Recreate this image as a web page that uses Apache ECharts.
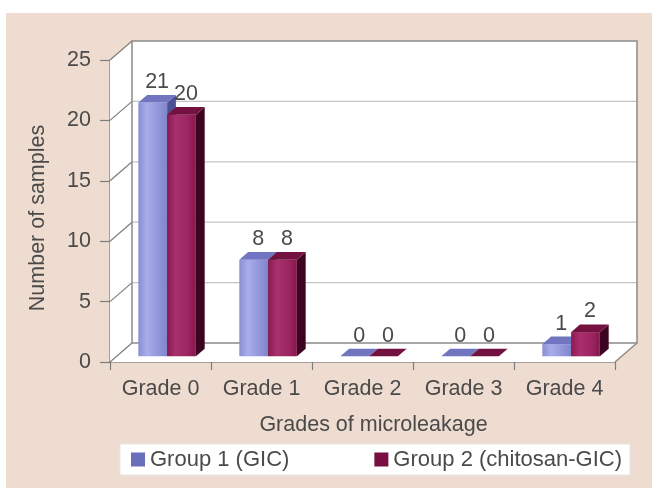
<!DOCTYPE html>
<html>
<head>
<meta charset="utf-8">
<script src="https://cdn.jsdelivr.net/npm/echarts@6/dist/echarts.min.js"></script>
<style>
html,body{margin:0;padding:0;background:#ffffff;}
#wrap{position:relative;width:652px;height:488px;background:#ffffff;overflow:hidden;}
#bg{position:absolute;left:6px;top:13px;width:646px;height:475px;background:#efdcd0;}
#chart{position:absolute;left:0;top:0;width:652px;height:488px;}
</style>
</head>
<body>
<div id="wrap"><div id="bg"></div><div id="chart"></div></div>
<script>
// ---- data ----
const categories = ['Grade 0', 'Grade 1', 'Grade 2', 'Grade 3', 'Grade 4'];
const group1 = [21, 8, 0, 0, 1];
const group2 = [20, 8, 0, 0, 2];
const seriesNames = ['Group 1 (GIC)', 'Group 2 (chitosan-GIC)'];
const yTicks = [0, 5, 10, 15, 20, 25];
const xAxisTitle = 'Grades of microleakage';
const yAxisTitle = 'Number of samples';

// ---- styling constants ----
const FONT = '"Liberation Sans", Arial, sans-serif';
const TXT = '#4a4a4a';
const DX = 22, DY = -19;          // 3D depth vector of the plot box
const F0 = 0.3, FD = 0.4;         // bar front position / bar depth as fraction of depth
const BAR_FRAC = 0.285;           // bar width as fraction of category width

const palette = [
  {legend: '#6b6ebb', front: ['#8a8ed3', '#a9adea', '#9296da', '#8084c8'], top: '#7175c0', side: '#4d5094'},
  {legend: '#780f40', front: ['#8a1a50', '#a8306c', '#9d2662', '#86174c'], top: '#74123f', side: '#3c0420'}
];

const chart = echarts.init(document.getElementById('chart'), null, {renderer: 'canvas'});

function frameRender(params, api) {
  const cs = params.coordSys;
  const L = cs.x, R = cs.x + cs.width;
  const yT = api.coord([0, yTicks[yTicks.length - 1]])[1];
  const yB = api.coord([0, yTicks[0]])[1];
  const children = [];
  children.push({
    type: 'polygon',
    shape: {points: [[L, yT], [L + DX, yT + DY], [R + DX, yT + DY], [R + DX, yB + DY], [R, yB], [L, yB]]},
    style: {fill: '#ffffff', stroke: null}
  });
  yTicks.forEach(function (t) {
    const y = api.coord([0, t])[1];
    if (t !== yTicks[0] && t !== yTicks[yTicks.length - 1]) {
      children.push({type: 'line', shape: {x1: L + DX, y1: y + DY, x2: R + DX, y2: y + DY},
        style: {stroke: '#c4c4c4', lineWidth: 1.2}});
    }
    children.push({type: 'line', shape: {x1: L, y1: y, x2: L + DX, y2: y + DY},
      style: {stroke: '#7d7d7d', lineWidth: 1.2}});
  });
  // back wall border
  children.push({type: 'polyline', shape: {points: [[L + DX, yB + DY], [L + DX, yT + DY], [R + DX, yT + DY], [R + DX, yB + DY], [L + DX, yB + DY]]},
    style: {stroke: '#8a8a8a', lineWidth: 1.5, fill: null}});
  // floor right edge
  children.push({type: 'line', shape: {x1: R, y1: yB, x2: R + DX, y2: yB + DY},
    style: {stroke: '#8a8a8a', lineWidth: 1.5}});
  return {type: 'group', children: children, silent: true};
}

function makeBarRender(s) {
  const pal = palette[s];
  return function (params, api) {
    const cat = api.value(0), v = api.value(1);
    const base = api.coord([cat, 0]);
    const topP = api.coord([cat, v]);
    const cw = api.size([1, 0])[0];
    const bw = cw * BAR_FRAC;
    const fx = DX * F0, fy = DY * F0;
    const dx = DX * FD, dy = DY * FD;
    const x0 = base[0] + (s === 0 ? -bw : 0) + fx;
    const x1 = x0 + bw;
    const yb = base[1] + fy;
    const yt = topP[1] + fy;
    const children = [];
    if (yb - yt > 0.5) {
      children.push({type: 'polygon',
        shape: {points: [[x1, yt], [x1 + dx, yt + dy], [x1 + dx, yb + dy], [x1, yb]]},
        style: {fill: pal.side}});
      children.push({type: 'rect', shape: {x: x0, y: yt, width: bw, height: yb - yt},
        style: {fill: new echarts.graphic.LinearGradient(0, 0, 1, 0, [
          {offset: 0, color: pal.front[0]}, {offset: 0.3, color: pal.front[1]},
          {offset: 0.7, color: pal.front[2]}, {offset: 1, color: pal.front[3]}])}});
    }
    children.push({type: 'polygon',
      shape: {points: [[x0, yt], [x1, yt], [x1 + dx, yt + dy], [x0 + dx, yt + dy]]},
      style: {fill: pal.top}});
    children.push({type: 'text',
      style: {text: String(v), x: (x0 + x1) / 2 + dx / 2, y: yt + dy - 2,
        align: 'center', verticalAlign: 'bottom', fontSize: 21.5, fontFamily: FONT, fill: TXT}});
    return {type: 'group', children: children};
  };
}

const option = {
  animation: false,
  backgroundColor: 'transparent',
  textStyle: {fontFamily: FONT},
  grid: {left: 110, right: 37, top: 60, bottom: 126, containLabel: false},
  legend: {
    data: seriesNames,
    left: 120, top: 444,
    orient: 'horizontal',
    backgroundColor: '#ffffff',
    borderColor: '#e6e6e6', borderWidth: 1,
    padding: [4.5, 8, 4.5, 11],
    itemGap: 85,
    itemWidth: 14, itemHeight: 14,
    icon: 'rect',
    textStyle: {fontSize: 22, color: TXT, fontFamily: FONT},
    selectedMode: false
  },
  xAxis: {
    type: 'category',
    data: categories,
    boundaryGap: true,
    name: xAxisTitle,
    nameLocation: 'middle',
    nameGap: 52,
    nameTextStyle: {fontSize: 21.5, color: TXT, fontFamily: FONT, padding: [0, 0, 0, 22]},
    axisLine: {show: true, lineStyle: {color: '#8a8a8a', width: 1.5}},
    axisTick: {show: true, inside: false, length: 8, alignWithLabel: false, lineStyle: {color: '#7d7d7d', width: 1.2}},
    axisLabel: {margin: 16, fontSize: 21.5, color: TXT, fontFamily: FONT},
    splitLine: {show: false}
  },
  yAxis: {
    type: 'value',
    min: 0, max: 25, interval: 5,
    name: yAxisTitle,
    nameLocation: 'middle',
    nameGap: 61,
    nameTextStyle: {fontSize: 21.5, color: TXT, fontFamily: FONT, padding: [0, 14, 0, 0]},
    axisLine: {show: true, lineStyle: {color: '#8a8a8a', width: 1.5}},
    axisTick: {show: true, inside: false, length: 10, lineStyle: {color: '#7d7d7d', width: 1.2}},
    axisLabel: {margin: 19, fontSize: 21.5, color: TXT, fontFamily: FONT},
    splitLine: {show: false}
  },
  series: [
    {type: 'custom', name: '_frame', silent: true, z: 1, renderItem: frameRender,
      data: [[0, 0]], encode: {x: 0, y: 1}, tooltip: {show: false}},
    {type: 'custom', name: seriesNames[0], z: 2, renderItem: makeBarRender(0),
      itemStyle: {color: palette[0].legend},
      data: group1.map(function (v, i) { return [i, v]; }), encode: {x: 0, y: 1}},
    {type: 'custom', name: seriesNames[1], z: 3, renderItem: makeBarRender(1),
      itemStyle: {color: palette[1].legend},
      data: group2.map(function (v, i) { return [i, v]; }), encode: {x: 0, y: 1}}
  ]
};
chart.setOption(option);
</script>
</body>
</html>
